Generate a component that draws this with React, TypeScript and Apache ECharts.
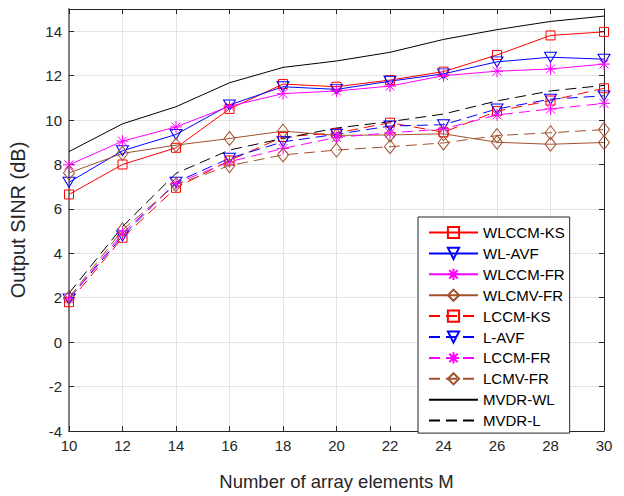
import React, { useEffect, useRef } from "react";
import * as echarts from "echarts";

const M = [10, 12, 14, 16, 18, 20, 22, 24, 26, 28, 30];
const xTicks = [10, 12, 14, 16, 18, 20, 22, 24, 26, 28, 30];
const yTicks = [-4, -2, 0, 2, 4, 6, 8, 10, 12, 14];

const WLCCM_KS = [6.65, 8.0, 8.75, 10.5, 11.62, 11.5, 11.8, 12.18, 12.93, 13.81, 13.97];
const WL_AVF = [7.2, 8.62, 9.35, 10.68, 11.5, 11.38, 11.75, 12.08, 12.62, 12.83, 12.74];
const WLCCM_FR = [7.98, 9.05, 9.69, 10.62, 11.19, 11.31, 11.53, 12.0, 12.2, 12.3, 12.52];
const WLCMV_FR = [7.62, 8.5, 8.87, 9.17, 9.5, 9.31, 9.33, 9.38, 9.0, 8.91, 8.99];
const LCCM_KS = [1.8, 4.7, 6.95, 8.18, 9.24, 9.42, 9.88, 9.45, 10.4, 10.88, 11.43];
const L_AVF = [1.95, 4.78, 7.2, 8.28, 9.02, 9.36, 9.73, 9.79, 10.5, 10.94, 11.09];
const LCCM_FR = [1.95, 4.9, 7.15, 8.12, 8.72, 9.22, 9.42, 9.6, 10.23, 10.5, 10.75];
const LCMV_FR = [2.0, 5.05, 7.1, 7.95, 8.43, 8.65, 8.8, 8.97, 9.3, 9.43, 9.57];
const MVDR_WL = [8.58, 9.83, 10.6, 11.68, 12.37, 12.66, 13.05, 13.63, 14.07, 14.44, 14.68];
const MVDR_L = [2.2, 5.2, 7.6, 8.65, 9.17, 9.64, 9.93, 10.27, 10.86, 11.31, 11.56];

const FONT = '"Liberation Sans", Arial, Helvetica, sans-serif';
const TXT = "#262626";
const RED = "#ff0000";
const BLUE = "#0000ff";
const MAG = "#ff00ff";
const BROWN = "#a0522d";
const BLACK = "#000000";

const SQUARE = "rect";
const TRI_DOWN = "path://M-6,-5L6,-5L0,5Z";
const STAR = "path://M0,-10L0,10M-10,0L10,0M-7.5,-7.5L7.5,7.5M-7.5,7.5L7.5,-7.5";
const DIAMOND = "diamond";
const DASH = [11, 6];

function mk(
  name: string,
  values: number[],
  color: string,
  symbol: string | null,
  size: number | number[],
  dashed: boolean
) {
  const hasSym = symbol !== null;
  return {
    type: "line",
    name,
    data: M.map((m, i) => [m, values[i]]),
    symbol: hasSym ? symbol : "circle",
    symbolSize: size,
    showSymbol: hasSym,
    lineStyle: { color, width: 1, type: dashed ? DASH : "solid" },
    itemStyle: hasSym
      ? { color: "rgba(0,0,0,0)", borderColor: color, borderWidth: 1 }
      : { color: "rgba(0,0,0,0)", borderColor: "rgba(0,0,0,0)", borderWidth: 0 },
    emphasis: { disabled: true },
    silent: true,
  };
}

export default function App() {
  const ref = useRef<HTMLDivElement>(null);
  useEffect(() => {
    if (!ref.current) return;
    const chart = echarts.init(ref.current, null, { renderer: "svg" });
    const axisLine = { show: true, onZero: false, lineStyle: { color: TXT, width: 1 } };
    const tick = { show: true, inside: true, length: 5, lineStyle: { color: TXT } };
    chart.setOption({
      animation: false,
      backgroundColor: "#ffffff",
      textStyle: { fontFamily: FONT, color: TXT },
      grid: { left: 64, right: 20, top: 9, bottom: 59, containLabel: false },
      legend: {
        orient: "vertical",
        left: 418,
        top: 217,
        backgroundColor: "#ffffff",
        borderColor: TXT,
        borderWidth: 1,
        borderRadius: 0,
        padding: [8, 5, 5, 10],
        itemWidth: 49,
        itemHeight: 14,
        itemGap: 5.9,
        textStyle: { fontSize: 15, lineHeight: 14, color: "#000", fontFamily: FONT },
        data: [
          "WLCCM-KS",
          "WL-AVF",
          "WLCCM-FR",
          "WLCMV-FR",
          "LCCM-KS",
          "L-AVF",
          "LCCM-FR",
          "LCMV-FR",
          "MVDR-WL",
          "MVDR-L",
        ],
      },
      xAxis: [
        {
          type: "value",
          min: 10,
          max: 30,
          interval: 2,
          position: "bottom",
          name: "Number of array elements M",
          nameLocation: "middle",
          nameGap: 41,
          nameTextStyle: { fontSize: 18.5, color: TXT, fontFamily: FONT },
          axisLine,
          axisTick: tick,
          axisLabel: {
            fontSize: 15,
            color: TXT,
            margin: 7,
            fontFamily: FONT,
            formatter: (v: number) => (xTicks.includes(v) ? String(v) : ""),
          },
          splitLine: { show: true, lineStyle: { color: "#e3e3e3", width: 1 } },
        },
        {
          type: "value",
          min: 10,
          max: 30,
          interval: 2,
          position: "top",
          axisLine,
          axisTick: tick,
          axisLabel: { show: false },
          splitLine: { show: false },
        },
      ],
      yAxis: [
        {
          type: "value",
          min: -4,
          max: 15,
          interval: 2,
          position: "left",
          name: "Output SINR (dB)",
          nameLocation: "middle",
          nameGap: 41,
          nameRotate: 90,
          nameTextStyle: { fontSize: 20, color: TXT, fontFamily: FONT },
          axisLine: { show: true, onZero: false, lineStyle: { color: "#808080", width: 2 } },
          axisTick: tick,
          axisLabel: {
            fontSize: 15,
            color: TXT,
            margin: 7,
            fontFamily: FONT,
            showMaxLabel: false,
            formatter: (v: number) => (yTicks.includes(v) ? String(v) : ""),
          },
          splitLine: { show: true, lineStyle: { color: "#e3e3e3", width: 1 } },
        },
        {
          type: "value",
          min: -4,
          max: 15,
          interval: 2,
          position: "right",
          axisLine,
          axisTick: tick,
          axisLabel: { show: false },
          splitLine: { show: false },
        },
      ],
      series: [
        mk("WLCCM-KS", WLCCM_KS, RED, SQUARE, 9, false),
        mk("WL-AVF", WL_AVF, BLUE, TRI_DOWN, [12, 10], false),
        mk("WLCCM-FR", WLCCM_FR, MAG, STAR, 12, false),
        mk("WLCMV-FR", WLCMV_FR, BROWN, DIAMOND, [11, 14], false),
        mk("LCCM-KS", LCCM_KS, RED, SQUARE, 9, true),
        mk("L-AVF", L_AVF, BLUE, TRI_DOWN, [12, 10], true),
        mk("LCCM-FR", LCCM_FR, MAG, STAR, 12, true),
        mk("LCMV-FR", LCMV_FR, BROWN, DIAMOND, [11, 14], true),
        mk("MVDR-WL", MVDR_WL, BLACK, null, 0, false),
        mk("MVDR-L", MVDR_L, BLACK, null, 0, true),
      ],
    });
    return () => chart.dispose();
  }, []);
  return (
    <div
      ref={ref}
      style={{ position: "fixed", left: 0, top: 0, width: 624, height: 496, background: "#fff" }}
    />
  );
}
